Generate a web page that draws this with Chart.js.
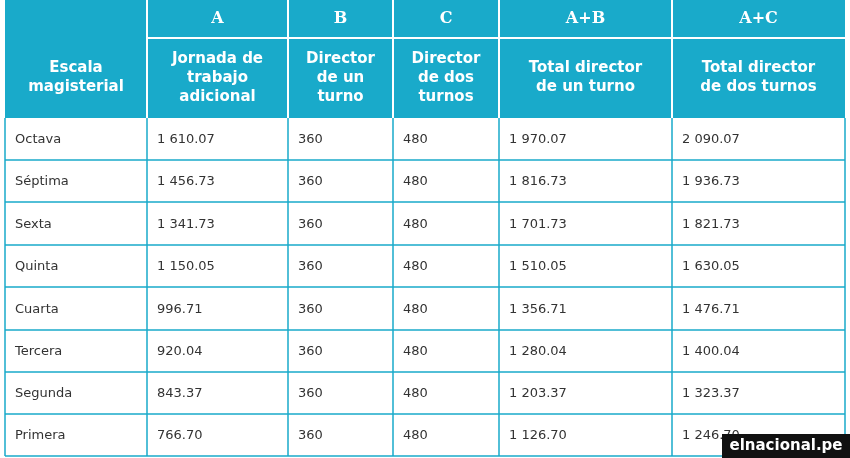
<!DOCTYPE html>
<html><head><meta charset="utf-8">
<script src="https://cdn.jsdelivr.net/npm/chart.js@4"></script>
<style>html,body{margin:0;padding:0;background:#fff}#w{width:850px;height:458px}</style>
</head><body><div id="w"><canvas id="c"></canvas></div>
<script>
const groupHeaders = ["", "A", "B", "C", "A+B", "A+C"];
const columnHeaders = [["Escala","magisterial"],["Jornada de","trabajo","adicional"],["Director","de un","turno"],["Director","de dos","turnos"],["Total director","de un turno"],["Total director","de dos turnos"]];
const categories = ["Octava","Séptima","Sexta","Quinta","Cuarta","Tercera","Segunda","Primera"];
const jornada = ["1 610.07","1 456.73","1 341.73","1 150.05","996.71","920.04","843.37","766.70"];
const directorUno = ["360","360","360","360","360","360","360","360"];
const directorDos = ["480","480","480","480","480","480","480","480"];
const totalUno = ["1 970.07","1 816.73","1 701.73","1 510.05","1 356.71","1 280.04","1 203.37","1 126.70"];
const totalDos = ["2 090.07","1 936.73","1 821.73","1 630.05","1 476.71","1 400.04","1 323.37","1 246.70"];
const columns = [categories, jornada, directorUno, directorDos, totalUno, totalDos];

const colEdges = [0,142,283,388,494,667,840];
const rowEdges = [0,38,118,160,202,245,287,330,372,414,456];
const cyan = "#19aaca";

const tablePlugin = {
  id:'table',
  afterDraw(chart){
    const ctx = chart.ctx, xs = chart.scales.x, ys = chart.scales.y;
    const X = v=>xs.getPixelForValue(v), Y = v=>ys.getPixelForValue(v);
    ctx.save();
    ctx.fillStyle = cyan;
    ctx.fillRect(X(0),Y(0),X(840)-X(0),Y(118)-Y(0));
    ctx.strokeStyle = "#ffffff"; ctx.lineWidth = 2;
    for(let i=1;i<6;i++){ ctx.beginPath(); ctx.moveTo(X(colEdges[i]),Y(0)); ctx.lineTo(X(colEdges[i]),Y(118)); ctx.stroke(); }
    ctx.beginPath(); ctx.moveTo(X(colEdges[1]),Y(38)); ctx.lineTo(X(840),Y(38)); ctx.stroke();
    ctx.fillStyle="#fff"; ctx.textAlign="center"; ctx.textBaseline="middle";
    ctx.font="bold 16px 'DejaVu Serif'";
    for(let i=0;i<6;i++){ const cx=(X(colEdges[i])+X(colEdges[i+1]))/2; ctx.fillText(groupHeaders[i],cx,Y(19)); }
    ctx.font="bold 15px 'DejaVu Sans'";
    for(let i=0;i<6;i++){ const cx=(X(colEdges[i])+X(colEdges[i+1]))/2; const L=columnHeaders[i]; const lh=19; const cy=Y(78);
      L.forEach((t,k)=>ctx.fillText(t,cx,cy+(k-(L.length-1)/2)*lh)); }
    ctx.strokeStyle=cyan; ctx.lineWidth=1.5;
    for(let r=3;r<rowEdges.length-1;r++){ ctx.beginPath(); ctx.moveTo(X(0),Y(rowEdges[r])); ctx.lineTo(X(840),Y(rowEdges[r])); ctx.stroke(); }
    for(let i=0;i<=6;i++){ ctx.beginPath(); ctx.moveTo(X(colEdges[i]),Y(118)); ctx.lineTo(X(colEdges[i]),Y(456)); ctx.stroke(); }
    ctx.beginPath(); ctx.moveTo(X(0),Y(456)); ctx.lineTo(X(840),Y(456)); ctx.stroke();
    ctx.fillStyle="#333"; ctx.textAlign="left"; ctx.font="13px 'DejaVu Sans'";
    for(let r=0;r<categories.length;r++){ const cy=(Y(rowEdges[r+2])+Y(rowEdges[r+3]))/2;
      for(let i=0;i<6;i++) ctx.fillText(columns[i][r],X(colEdges[i])+10,cy+1); }
    ctx.fillStyle="#111"; ctx.fillRect(722,434,128,24);
    ctx.fillStyle="#fff"; ctx.font="bold 15px 'DejaVu Sans'"; ctx.textAlign="center";
    ctx.fillText("elnacional.pe",786,446);
    ctx.restore();
  }
};
new Chart(document.getElementById('c'),{
  type:'scatter',
  data:{datasets:[{data:[]}]},
  options:{responsive:true,maintainAspectRatio:false,animation:false,
    layout:{padding:{left:5,right:5,top:0,bottom:2}},
    plugins:{legend:{display:false},tooltip:{enabled:false}},
    scales:{x:{type:'linear',min:0,max:840,display:false},y:{type:'linear',min:0,max:456,reverse:true,display:false}}},
  plugins:[tablePlugin]
});
</script></body></html>
